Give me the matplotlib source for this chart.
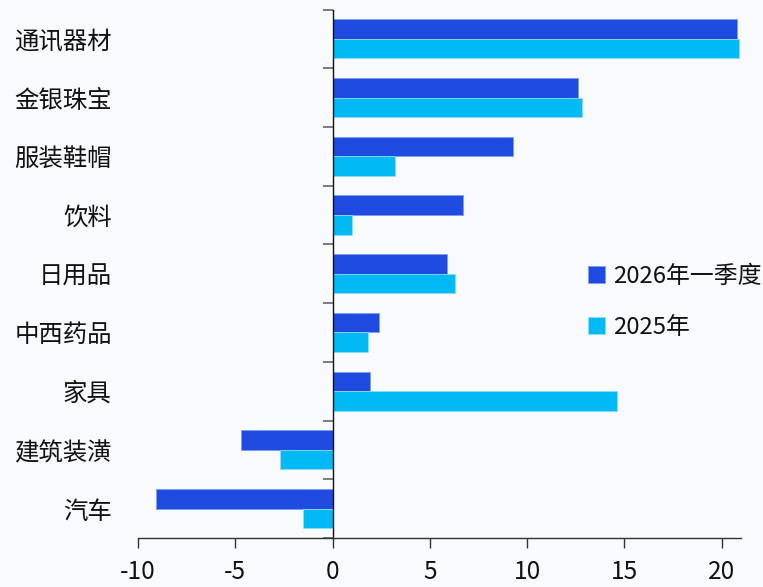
import matplotlib
matplotlib.use("Agg")
import matplotlib.pyplot as plt
import numpy as np

plt.rcParams['font.family'] = ['Noto Sans CJK SC', 'DejaVu Sans']

categories = ['通讯器材', '金银珠宝', '服装鞋帽', '饮料', '日用品', '中西药品', '家具', '建筑装潢', '汽车']
q1_2026 = [20.8, 12.6, 9.3, 6.7, 5.9, 2.4, 1.9, -4.7, -9.1]
y2025 = [20.9, 12.8, 3.2, 1.0, 6.3, 1.8, 14.6, -2.7, -1.5]
series_labels = ['2026年一季度', '2025年']
xticks = [-10, -5, 0, 5, 10, 15, 20]

c_dark = '#1F4BE0'
c_light = '#00B9F5'
bg = '#F8FAFD'
fs = 17.6

fig = plt.figure(figsize=(7.63, 5.87), dpi=100, facecolor=bg)
ax = fig.add_axes([0.1809, 0.0835, 0.7903, 0.9003])
ax.set_facecolor(bg)

y = np.arange(len(categories))
h = 1/3
ax.barh(y - h/2, q1_2026, height=h, color=c_dark, edgecolor='#7F9BEF', linewidth=0.6, label=series_labels[0])
ax.barh(y + h/2, y2025, height=h, color=c_light, edgecolor='#8FDDFA', linewidth=0.6, label=series_labels[1])

ax.set_xlim(-10, 21)
ax.set_ylim(len(categories) - 0.5, -0.5)

for s in ['top', 'right']:
    ax.spines[s].set_visible(False)
ax.spines['left'].set_position(('data', 0))
ax.spines['left'].set_color('#111111')
ax.spines['left'].set_linewidth(1.0)
ax.spines['bottom'].set_color('#333333')
ax.spines['bottom'].set_linewidth(1.0)

ax.set_xticks(xticks)
ax.set_xticklabels([str(t) for t in xticks])
ax.tick_params(axis='x', length=7, width=1, color='#333333', labelsize=fs, pad=8, labelcolor='#111111')

ax.set_yticks(np.arange(-0.5, len(categories) + 0.5, 1))
ax.set_yticklabels([])
ax.tick_params(axis='y', which='major', length=7, width=1.2, color='#666666')
ax.set_yticks(y, minor=True)
ax.set_yticklabels(categories, minor=True)
ax.tick_params(axis='y', which='minor', length=0, pad=159.0, labelsize=fs, labelcolor='#111111')

leg = ax.legend(loc='upper left', bbox_to_anchor=(0.731, 0.535), frameon=False,
                fontsize=17.2, handlelength=0.7, handleheight=0.7, handletextpad=0.35,
                labelspacing=1.18, borderaxespad=0)
for t in leg.get_texts():
    t.set_color('#111111')

fig.savefig('out.png', dpi=100, facecolor=bg)
